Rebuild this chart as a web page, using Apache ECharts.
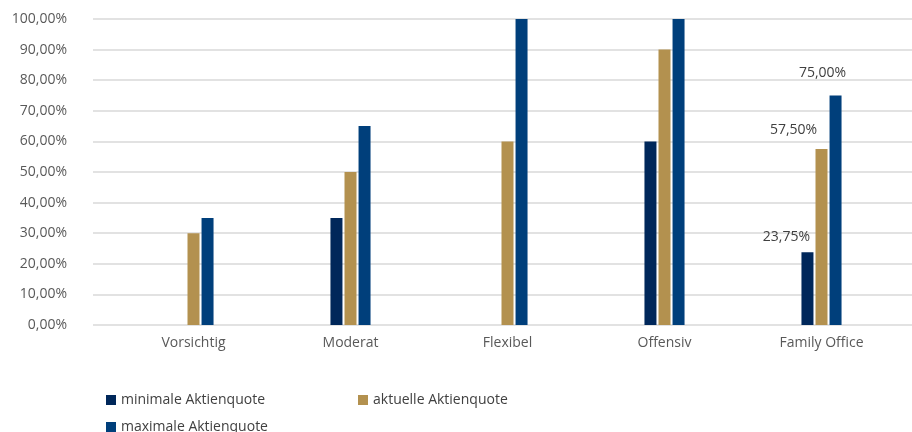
<!DOCTYPE html>
<html>
<head>
<meta charset="utf-8">
<script src="https://cdn.jsdelivr.net/npm/echarts@6/dist/echarts.min.js"></script>
<style>
  html, body { margin: 0; padding: 0; background: #fff; }
  #chart { width: 912px; height: 432px; }
</style>
</head>
<body>
<div id="chart"></div>
<script>
const categories = ['Vorsichtig', 'Moderat', 'Flexibel', 'Offensiv', 'Family Office']
const seriesNames = ['minimale Aktienquote', 'aktuelle Aktienquote', 'maximale Aktienquote']
const minQuote = [null, 35, null, 60, 23.75]
const currentQuote = [30, 50, 60, 90, 57.5]
const maxQuote = [35, 65, 100, 100, 75]
const yTicks = [0, 10, 20, 30, 40, 50, 60, 70, 80, 90, 100]

const colors = ['#00275a', '#b3914f', '#003f7b']
const fontFamily = 'Open Sans'
const labelled = 'Family Office'
// label offsets for the annotated group (min, current, max)
const labelOffsets = [[-21, -3], [-28, -7], [-13, -10]]

const fmtPct = v => v.toFixed(2).replace('.', ',') + '%'

const buildData = (values, idx) => values.map((v, i) => {
  if (v === null) return null
  if (categories[i] !== labelled) return v
  return {
    value: v,
    label: {
      show: true,
      position: 'top',
      offset: labelOffsets[idx],
      formatter: p => fmtPct(p.value),
      color: '#404040',
      fontFamily,
      fontSize: 14
    }
  }
})

const chart = echarts.init(document.getElementById('chart'))

const option = {
  animation: false,
  grid: [
    { left: 93, right: 0, top: 19, bottom: 107 },
    { left: 115, right: 12, top: 19, bottom: 107 }
  ],
  legend: seriesNames.map((name, i) => ({
    data: [name],
    left: i === 1 ? 358 : 106,
    top: i === 2 ? 420 : 393,
    padding: 0,
    itemWidth: 10,
    itemHeight: 10,
    icon: 'rect',
    textStyle: { color: '#404040', fontFamily, fontSize: 14 }
  })),
  xAxis: [
    { gridIndex: 0, type: 'category', data: categories, show: false },
    {
      gridIndex: 1,
      type: 'category',
      data: categories,
      axisLine: { show: false },
      axisTick: { show: false },
      axisLabel: { color: '#595959', fontFamily, fontSize: 14, margin: 11 }
    }
  ],
  yAxis: [
    {
      gridIndex: 0,
      type: 'value',
      min: yTicks[0],
      max: yTicks[yTicks.length - 1],
      interval: yTicks[1] - yTicks[0],
      axisLine: { show: false },
      axisTick: { show: false },
      axisLabel: {
        margin: 26,
        color: '#595959',
        fontFamily,
        fontSize: 14,
        formatter: v => fmtPct(v)
      },
      splitLine: { lineStyle: { color: '#d9d9d9', width: 1.5 } }
    },
    {
      gridIndex: 1,
      type: 'value',
      min: yTicks[0],
      max: yTicks[yTicks.length - 1],
      show: false,
      splitLine: { show: false }
    }
  ],
  series: [minQuote, currentQuote, maxQuote].map((vals, i) => ({
    name: seriesNames[i],
    type: 'bar',
    xAxisIndex: 1,
    yAxisIndex: 1,
    barWidth: 12,
    barGap: '17%',
    itemStyle: { color: colors[i] },
    data: buildData(vals, i)
  }))
}

chart.setOption(option)
</script>
</body>
</html>
